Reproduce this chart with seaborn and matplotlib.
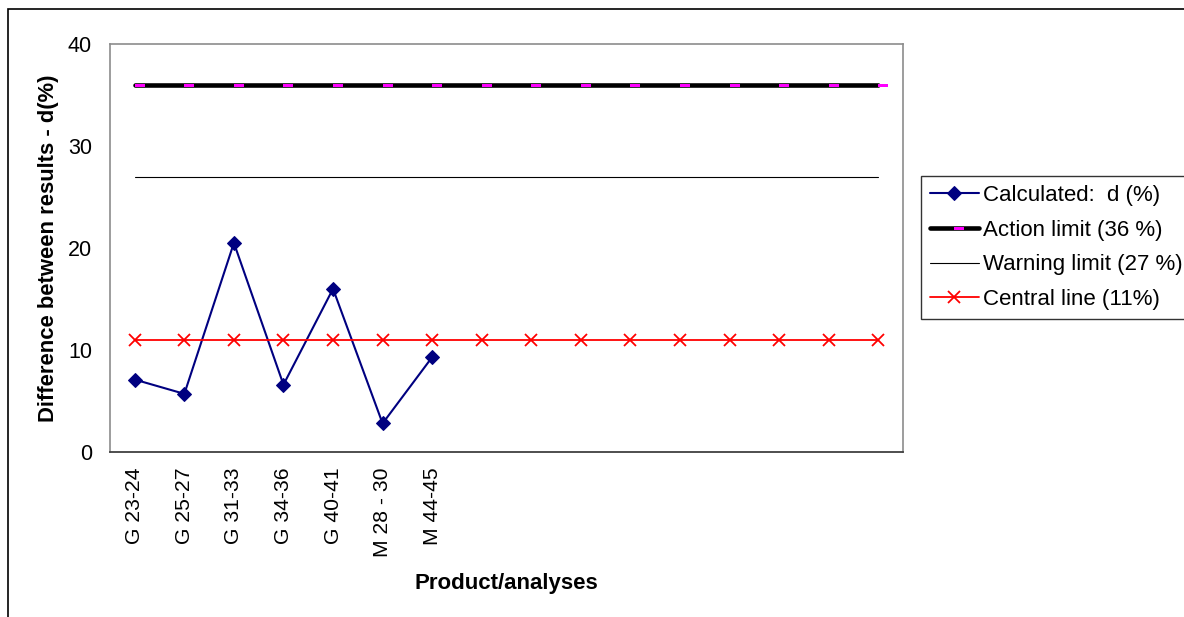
import numpy as np
import pandas as pd
import matplotlib
matplotlib.use("Agg")
import matplotlib.pyplot as plt
from matplotlib.patches import Rectangle
import seaborn as sns

# category slots on the x axis (only the first seven are used)
categories = ["G 23-24", "G 25-27", "G 31-33", "G 34-36", "G 40-41", "M 28 - 30", "M 44-45",
              "", "", "", "", "", "", "", "", ""]
calculated = [7.1, 5.7, 20.5, 6.6, 16.0, 2.8, 9.3]
action_limit = [36] * 16
warning_limit = [27] * 16
central_line = [11] * 16

series_names = ["Calculated:  d (%)", "Action limit (36 %)", "Warning limit (27 %)", "Central line (11%)"]

sns.set_style("white")
plt.rcParams["font.family"] = ["Liberation Sans", "DejaVu Sans"]
plt.rcParams["text.color"] = "black"
plt.rcParams["axes.labelcolor"] = "black"
plt.rcParams["xtick.color"] = "black"
plt.rcParams["ytick.color"] = "black"

x_all = np.arange(len(categories))
df_calc = pd.DataFrame({"x": x_all[:len(calculated)], "d": calculated})
df_lim = pd.DataFrame({"x": x_all, "action": action_limit, "warning": warning_limit, "central": central_line})

fig = plt.figure(figsize=(11.84, 6.17), dpi=100)
ax = fig.add_axes([110 / 1184, 1 - 452 / 617, 793 / 1184, 408 / 617])

# dash marker that starts at the point and runs to the right
dash = [(0, -0.6), (4, -0.6), (4, 0.6), (0, 0.6), (0, -0.6)]

sns.lineplot(data=df_calc, x="x", y="d", ax=ax, color="#000080", lw=1.5,
             marker="D", markersize=7, markeredgecolor="#000080", label=series_names[0])
sns.lineplot(data=df_lim, x="x", y="action", ax=ax, color="black", lw=3.3,
             solid_capstyle="round", marker=dash, markersize=14.4, markerfacecolor="#FF00FF",
             markeredgewidth=0, label=series_names[1])
sns.lineplot(data=df_lim, x="x", y="warning", ax=ax, color="black", lw=0.8, label=series_names[2])
sns.lineplot(data=df_lim, x="x", y="central", ax=ax, color="#FF0000", lw=1.3,
             marker="x", markersize=9, markeredgewidth=1.3, markeredgecolor="#FF0000",
             label=series_names[3])

ax.set_xlim(-0.5, len(categories) - 0.5)
ax.set_ylim(0, 40)
ax.set_yticks([0, 10, 20, 30, 40])
ax.set_xticks(x_all)
ax.set_xticklabels(categories, rotation=90, fontsize=15.2)
ax.tick_params(axis="x", length=0, pad=11)
ax.tick_params(axis="y", length=0, pad=13, labelsize=15.5)
# edge ticks of the category axis
ax.set_xticks([-0.5, len(categories) - 0.5], minor=True)
ax.tick_params(axis="x", which="minor", length=5, color="#404040", width=1)

for side in ["left", "right", "top"]:
    ax.spines[side].set_color("#8c8c8c")
    ax.spines[side].set_linewidth(1.2)
ax.spines["bottom"].set_color("#404040")
ax.spines["bottom"].set_linewidth(1.3)

ax.set_xlabel("Product/analyses", fontsize=16, fontweight="bold", labelpad=12)
ax.set_ylabel("Difference between results - d(%)", fontsize=15.8, fontweight="bold", labelpad=6)

leg = ax.legend(loc="upper left", bbox_to_anchor=(921 / 1184, 1 - 176 / 617),
                bbox_transform=fig.transFigure, fontsize=16, frameon=True, fancybox=False,
                edgecolor="black", borderpad=0.4, handlelength=2.2, handletextpad=0.2,
                labelspacing=0.62, borderaxespad=0)
leg.get_frame().set_linewidth(1.0)

# outer chart border
fig.patches.append(Rectangle((8 / 1184, -0.1), 1.2, 1 - 9 / 617 + 0.1, transform=fig.transFigure,
                             fill=False, edgecolor="black", lw=1.2))

fig.savefig("out.png", dpi=100)
